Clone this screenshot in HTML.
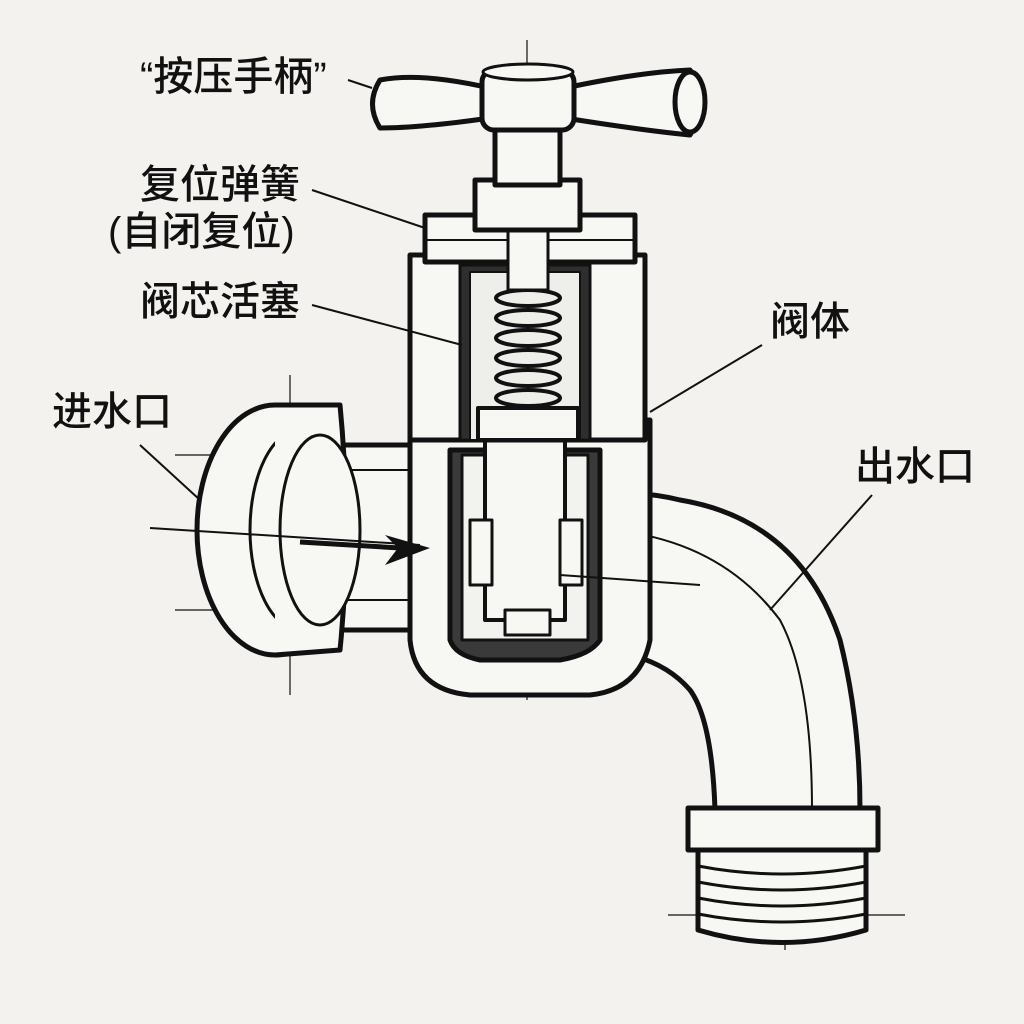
<!DOCTYPE html>
<html><head><meta charset="utf-8"><style>
html,body{margin:0;padding:0;background:#f3f2ee;}
svg{display:block}
text{font-family:"Liberation Sans","Noto Sans CJK SC",sans-serif;font-size:40px;font-weight:500;fill:#111}
</style></head><body>
<svg width="1024" height="1024" viewBox="0 0 1024 1024" xmlns="http://www.w3.org/2000/svg">
<rect width="1024" height="1024" fill="#f3f2ee"/>
<g stroke="#111" stroke-width="5" fill="#f7f7f4" stroke-linejoin="round">
<!-- construction lines -->
<g stroke-width="1.2" fill="none">
<line x1="527" y1="40" x2="527" y2="700"/><line x1="290" y1="375" x2="290" y2="695"/>
<line x1="175" y1="455" x2="420" y2="455"/><line x1="175" y1="610" x2="420" y2="610"/>
<line x1="668" y1="915" x2="905" y2="915"/><line x1="785" y1="810" x2="785" y2="950"/>
</g>
<!-- outlet elbow -->
<path d="M600 495 Q640 490 680 500 Q800 520 840 640 Q860 720 860 810 L715 810 Q712 720 690 690 Q660 655 600 650 Z"/>
<path d="M610 530 Q720 540 780 620 Q812 680 812 810" fill="none" stroke-width="2"/>
<!-- threaded end -->
<path d="M688 808 L878 808 L878 850 L688 850 Z"/>
<path d="M698 850 L866 850 L866 930 Q782 955 698 930 Z"/>
<g fill="none" stroke-width="3">
<path d="M698 866 Q782 882 866 866"/><path d="M698 882 Q782 898 866 882"/><path d="M698 898 Q782 914 866 898"/><path d="M698 914 Q782 930 866 914"/>
</g>
<!-- inlet pipe -->
<path d="M300 445 L440 445 L440 630 L300 630 Z"/>
<path d="M330 470 L430 470 M330 600 L430 600" stroke-width="2" fill="none"/>
<!-- inlet nut -->
<ellipse cx="275" cy="530" rx="78" ry="125"/>
<ellipse cx="300" cy="530" rx="50" ry="100" stroke-width="3"/>
<path d="M275 405 L340 405 Q352 530 340 650 L275 655" fill="#f7f7f4"/>
<ellipse cx="320" cy="530" rx="40" ry="95" stroke-width="3"/>
<!-- lower body -->
<path d="M410 420 L650 420 L650 640 Q640 690 590 695 L470 695 Q415 690 410 640 Z"/>
<path d="M450 450 L600 450 L600 640 Q590 655 560 660 L480 660 Q455 655 450 640 Z" fill="#3a3a3a"/>
<path d="M462 455 L588 455 L588 640 L462 640 Z" fill="#f2f2ee" stroke-width="3"/>
<!-- piston -->
<rect x="485" y="440" width="80" height="180" stroke-width="4"/>
<rect x="470" y="520" width="22" height="65" stroke-width="3"/>
<rect x="560" y="520" width="22" height="65" stroke-width="3"/>
<rect x="505" y="610" width="45" height="25" stroke-width="3"/>
<!-- upper body -->
<path d="M410 255 L645 255 L645 440 L410 440 Z"/>
<rect x="460" y="265" width="130" height="175" fill="#2e2e2e" stroke-width="3"/>
<rect x="470" y="272" width="110" height="168" fill="#eeeeea" stroke-width="2"/>
<!-- spring -->
<g fill="none" stroke-width="4">
<ellipse cx="528" cy="298" rx="32" ry="8"/><ellipse cx="528" cy="318" rx="32" ry="8"/><ellipse cx="528" cy="338" rx="32" ry="8"/>
<ellipse cx="528" cy="358" rx="32" ry="8"/><ellipse cx="528" cy="378" rx="32" ry="8"/><ellipse cx="528" cy="398" rx="32" ry="8"/>
</g>
<rect x="478" y="408" width="100" height="32" stroke-width="4"/>
<!-- cap -->
<path d="M425 215 L635 215 L635 262 L425 262 Z"/>
<path d="M425 240 L635 240" fill="none" stroke-width="2"/>
<rect x="508" y="225" width="40" height="65" stroke-width="3"/>
<!-- nut & stem -->
<rect x="475" y="180" width="105" height="50"/>
<rect x="495" y="125" width="65" height="60"/>
<!-- handle -->
<path d="M380 80 Q420 72 490 88 L490 118 Q420 128 380 128 Q365 104 380 80 Z"/>
<path d="M565 88 Q640 72 690 70 Q712 100 690 135 Q640 130 565 118 Z"/>
<ellipse cx="690" cy="102" rx="15" ry="30"/>
<rect x="482" y="70" width="92" height="60" rx="12"/>
<ellipse cx="528" cy="72" rx="45" ry="8" stroke-width="3"/>
<!-- leader lines -->
<g stroke-width="2" fill="none">
<line x1="348" y1="80" x2="372" y2="88"/>
<line x1="312" y1="190" x2="425" y2="228"/>
<line x1="312" y1="305" x2="462" y2="345"/>
<line x1="762" y1="345" x2="650" y2="412"/>
<line x1="140" y1="445" x2="200" y2="500"/>
<line x1="872" y1="495" x2="770" y2="610"/>
<line x1="560" y1="575" x2="700" y2="585"/>
<line x1="150" y1="528" x2="420" y2="545"/>
</g>
<polygon points="385,535 430,548 385,565 398,548" fill="#111" stroke="none"/>
<line x1="300" y1="542" x2="400" y2="548" stroke-width="5"/>
</g>
<text x="140" y="90">“按压手柄”</text>
<text x="140" y="198">复位弹簧</text>
<text x="108" y="245">(自闭复位)</text>
<text x="140" y="315">阀芯活塞</text>
<text x="770" y="335">阀体</text>
<text x="52" y="425">进水口</text>
<text x="855" y="480">出水口</text>
</svg>
</body></html>
